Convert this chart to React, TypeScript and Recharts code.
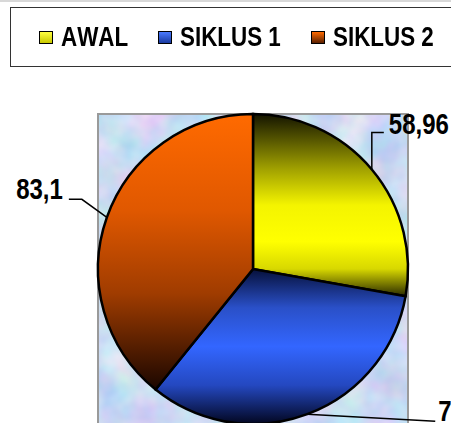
import React from "react"
import { PieChart, Pie, Cell } from "recharts"

const categories = ["AWAL", "SIKLUS 1", "SIKLUS 2"]
const values = [58.96, 70, 83.1]
const gradientIds = ["gradAwal", "gradSiklus1", "gradSiklus2"]

const data = categories.map((name, i) => ({ name, value: values[i] }))

const CX = 253
const CY = 269
const R = 155
const FONT = "'Liberation Sans', Arial, sans-serif"
const NARROW = 0.8 // squeeze to mimic Arial Narrow

// leader line elbows relative to the slice edge point, per slice
const leaders = [
  { pts: [[0, -37], [12, -37]], dx: 5, dy: 2, anchor: "start" },
  { pts: [[128, 7]], dx: 3, dy: 0, anchor: "start" },
  { pts: [[-25, -18], [-38, -18]], dx: -6, dy: 0, anchor: "end" }
]

const fmt = (v: number) => String(v).replace(".", ",")

let ctx: any = null
const measure = (text: string, size: number) => {
  if (!ctx) ctx = document.createElement("canvas").getContext("2d")
  if (!ctx) return text.length * size * 0.6
  ctx.font = `bold ${size}px ${FONT}`
  ctx.fontKerning = "none"
  return ctx.measureText(text).width
}

const renderLabel = (props: any) => {
  const { cx, cy, midAngle, outerRadius, index, value } = props
  const rad = (Math.PI / 180) * midAngle
  const x0 = cx + outerRadius * Math.cos(rad)
  const y0 = cy - outerRadius * Math.sin(rad)
  const cfg = leaders[index]
  const pts = [[x0, y0], ...cfg.pts.map(([dx, dy]) => [x0 + dx, y0 + dy])]
  const last = pts[pts.length - 1]
  return (
    <g key={`lbl-${index}`}>
      <polyline
        points={pts.map(p => p.join(",")).join(" ")}
        fill="none"
        stroke="#000"
        strokeWidth={1.5}
      />
      <text
        transform={`translate(${last[0] + cfg.dx},${last[1] + cfg.dy}) scale(${NARROW},1)`}
        textAnchor={cfg.anchor as any}
        fontFamily={FONT}
        fontWeight="bold"
        fontSize={30}
        fill="#000">
        {fmt(value)}
      </text>
    </g>
  )
}

const legendSwatch = [
  "linear-gradient(#ffff40, #c8c800)",
  "linear-gradient(#4a7aff, #1a3aa0)",
  "linear-gradient(#ff6a00, #5a2000)"
]

const LEGEND_SIZE = 28

const App = () => {
  return (
    <div
      style={{
        position: "fixed",
        top: 0,
        left: 0,
        width: 451,
        height: 423,
        overflow: "hidden",
        background: "#fff"
      }}>
      <div style={{ position: "absolute", top: 0, left: 0, width: 451, height: 2, background: "#d8d8d8" }} />
      <div
        style={{
          position: "absolute",
          top: 7,
          left: 10,
          width: 460,
          height: 58,
          border: "1px solid #333",
          boxSizing: "content-box",
          display: "flex",
          alignItems: "center",
          paddingLeft: 28,
          fontFamily: FONT,
          fontWeight: "bold",
          fontSize: LEGEND_SIZE,
          fontKerning: "none",
          color: "#000",
          whiteSpace: "nowrap",
          background: "#fff"
        }}>
        {categories.map((c, i) => (
          <div key={c} style={{ display: "flex", alignItems: "center", marginRight: 30 }}>
            <span
              style={{
                display: "inline-block",
                width: 12,
                height: 11,
                border: "1.5px solid #000",
                background: legendSwatch[i],
                marginRight: 8
              }}
            />
            <span
              style={{
                display: "inline-block",
                width: measure(c, LEGEND_SIZE) * NARROW,
                overflow: "visible"
              }}>
              <span
                style={{
                  display: "inline-block",
                  transform: `scaleX(${NARROW})`,
                  transformOrigin: "left center"
                }}>
                {c}
              </span>
            </span>
          </div>
        ))}
      </div>
      <PieChart width={451} height={423} margin={{ top: 0, right: 0, bottom: 0, left: 0 }}>
        <defs>
          <linearGradient id="gradAwal" x1="0" y1="0" x2="0" y2="1">
            <stop offset="0" stopColor="#141400" />
            <stop offset="0.3" stopColor="#a0a000" />
            <stop offset="0.5" stopColor="#f4f400" />
            <stop offset="0.7" stopColor="#ffff00" />
            <stop offset="0.85" stopColor="#d8d800" />
            <stop offset="1" stopColor="#2a2a00" />
          </linearGradient>
          <linearGradient id="gradSiklus1" x1="0" y1="0" x2="0" y2="1">
            <stop offset="0" stopColor="#06103a" />
            <stop offset="0.25" stopColor="#2a50c8" />
            <stop offset="0.5" stopColor="#3366ff" />
            <stop offset="0.75" stopColor="#2448c0" />
            <stop offset="1" stopColor="#020620" />
          </linearGradient>
          <linearGradient id="gradSiklus2" x1="0" y1="0" x2="0" y2="1">
            <stop offset="0" stopColor="#ff6a00" />
            <stop offset="0.35" stopColor="#e05800" />
            <stop offset="0.65" stopColor="#a03c00" />
            <stop offset="1" stopColor="#1a0600" />
          </linearGradient>
          <filter id="texture" x="0" y="0" width="1" height="1" colorInterpolationFilters="sRGB">
            <feTurbulence type="fractalNoise" baseFrequency="0.03" numOctaves="3" seed="4" />
            <feColorMatrix
              type="matrix"
              values="0.35 0 0 0 0.62  0 0.22 0 0 0.75  0 0 0.1 0 0.9  0 0 0 0 1"
            />
          </filter>
        </defs>
        <rect
          x={CX - R}
          y={CY - R}
          width={2 * R}
          height={2 * R + 10}
          filter="url(#texture)"
          fill="#d3def4"
        />
        <rect
          x={CX - R}
          y={CY - R}
          width={2 * R}
          height={2 * R + 10}
          fill="none"
          stroke="#9a9a9a"
          strokeWidth={2}
        />
        <Pie
          data={data}
          dataKey="value"
          nameKey="name"
          cx={CX}
          cy={CY}
          outerRadius={R}
          startAngle={90}
          endAngle={-270}
          stroke="#000"
          strokeWidth={2.5}
          label={renderLabel}
          labelLine={false}
          isAnimationActive={false}>
          {data.map((d, i) => (
            <Cell key={d.name} fill={`url(#${gradientIds[i]})`} />
          ))}
        </Pie>
      </PieChart>
    </div>
  )
}

export default App
